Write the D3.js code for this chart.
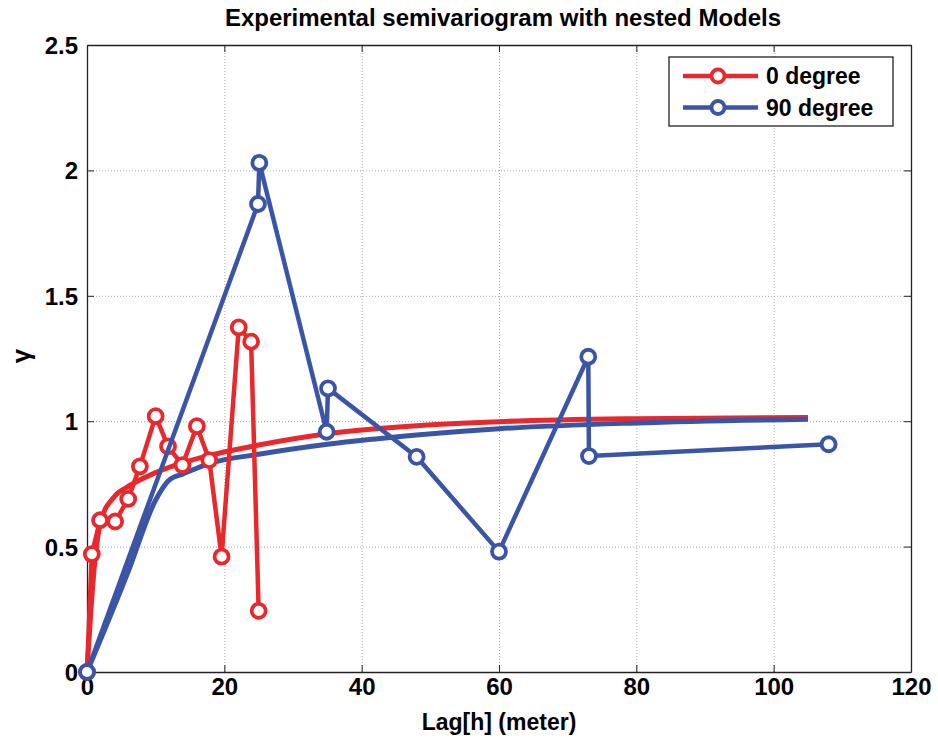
<!DOCTYPE html>
<html>
<head>
<meta charset="utf-8">
<script src="https://cdn.jsdelivr.net/npm/d3@7"></script>
<style>
  body { margin: 0; background: #fff; }
  svg { font-family: "Liberation Sans", Arial, sans-serif; font-weight: bold; }
</style>
</head>
<body>
<svg id="canvas"></svg>
<script>
// experimental semivariogram, 0 degree direction
const lag0 = [0, 0.7, 1.9, 4.1, 6.0, 7.7, 10.0, 11.8, 13.9, 16.0, 17.8, 19.6, 22.1, 23.9, 25.0];
const gamma0 = [0, 0.47, 0.605, 0.60, 0.69, 0.82, 1.02, 0.90, 0.825, 0.98, 0.845, 0.46, 1.374, 1.317, 0.244];

// experimental semivariogram, 90 degree direction
const lag90 = [0, 24.9, 25.1, 34.9, 35.1, 48.0, 60.0, 73.0, 73.1, 108.0];
const gamma90 = [0, 1.866, 2.03, 0.958, 1.131, 0.858, 0.48, 1.257, 0.861, 0.908];

// nested model curves
const modelLag0 = [0, 1, 2, 4, 6, 10, 14, 18, 25, 35, 48, 60, 80, 105];
const modelGamma0 = [0, 0.4, 0.6, 0.70, 0.74, 0.795, 0.835, 0.865, 0.905, 0.95, 0.982, 0.998, 1.01, 1.015];
const modelLag90 = [0, 6, 10, 12, 14, 18, 25, 35, 48, 60, 80, 105];
const modelGamma90 = [0, 0.4, 0.686, 0.766, 0.79, 0.833, 0.868, 0.908, 0.945, 0.97, 0.993, 1.008];

const xTicks = [0, 20, 40, 60, 80, 100, 120];
const yTicks = [0, 0.5, 1, 1.5, 2, 2.5];
const legendLabels = ["0 degree", "90 degree"];

const width = 938;
const height = 742;
const margin = { left: 87, right: 27, top: 45, bottom: 70 };

const red = "#e9282d";
const blue = "#3a55a6";

const canvas = d3.select("#canvas").attr("width", width).attr("height", height);

const xScale = d3.scaleLinear().domain([0, 120]).range([margin.left, width - margin.right]);
const yScale = d3.scaleLinear().domain([0, 2.5]).range([height - margin.bottom, margin.top]);

const plotW = width - margin.left - margin.right;
const plotH = height - margin.top - margin.bottom;

// grid
canvas.append("g")
  .attr("transform", `translate(0, ${height - margin.bottom})`)
  .call(d3.axisBottom(xScale).tickValues(xTicks).tickSize(-plotH).tickFormat(""))
  .call((g) => g.select(".domain").remove())
  .selectAll("line").attr("stroke", "#aaa").attr("stroke-dasharray", "1,2");

canvas.append("g")
  .attr("transform", `translate(${margin.left}, 0)`)
  .call(d3.axisLeft(yScale).tickValues(yTicks).tickSize(-plotW).tickFormat(""))
  .call((g) => g.select(".domain").remove())
  .selectAll("line").attr("stroke", "#aaa").attr("stroke-dasharray", "1,2");

// axes
const xAxis = canvas.append("g")
  .attr("transform", `translate(0, ${height - margin.bottom})`)
  .call(d3.axisBottom(xScale).tickValues(xTicks).tickSizeInner(-7).tickSizeOuter(0).tickPadding(6).tickFormat(d3.format("d")));

const yAxis = canvas.append("g")
  .attr("transform", `translate(${margin.left}, 0)`)
  .call(d3.axisLeft(yScale).tickValues(yTicks).tickSizeInner(-7).tickSizeOuter(0).tickPadding(9).tickFormat(d3.format("~g")));

canvas.append("g")
  .attr("transform", `translate(0, ${margin.top})`)
  .call(d3.axisTop(xScale).tickValues(xTicks).tickSizeInner(-7).tickSizeOuter(0).tickFormat(""));

canvas.append("g")
  .attr("transform", `translate(${width - margin.right}, 0)`)
  .call(d3.axisRight(yScale).tickValues(yTicks).tickSizeInner(-7).tickSizeOuter(0).tickFormat(""));

canvas.selectAll(".domain").attr("stroke", "#222").attr("stroke-width", 1.3);
canvas.selectAll(".tick line").filter(function () { return !this.getAttribute("stroke-dasharray"); }).attr("stroke", "#222");

xAxis.selectAll("text").attr("font-size", 24).attr("fill", "#000").attr("font-family", "Liberation Sans").attr("font-weight", "bold");
yAxis.selectAll("text").attr("font-size", 24).attr("fill", "#000").attr("font-family", "Liberation Sans").attr("font-weight", "bold").attr("dy", "0.35em");

// model curves
const modelLine = d3.line().x((d) => xScale(d[0])).y((d) => yScale(d[1])).curve(d3.curveMonotoneX);

canvas.append("path")
  .datum(d3.zip(modelLag0, modelGamma0))
  .attr("d", modelLine)
  .attr("fill", "none").attr("stroke", red).attr("stroke-width", 5);

canvas.append("path")
  .datum(d3.zip(modelLag90, modelGamma90))
  .attr("d", modelLine)
  .attr("fill", "none").attr("stroke", blue).attr("stroke-width", 5);

// experimental lines with markers
const dataLine = d3.line().x((d) => xScale(d[0])).y((d) => yScale(d[1]));

const drawSeries = (lags, gammas, color) => {
  const pts = d3.zip(lags, gammas);
  canvas.append("path")
    .datum(pts)
    .attr("d", dataLine)
    .attr("fill", "none").attr("stroke", color).attr("stroke-width", 4.5).attr("stroke-linejoin", "round");
  canvas.append("g")
    .selectAll("circle")
    .data(pts)
    .enter()
    .append("circle")
    .attr("cx", (d) => xScale(d[0]))
    .attr("cy", (d) => yScale(d[1]))
    .attr("r", 7)
    .attr("fill", "#fff")
    .attr("stroke", color)
    .attr("stroke-width", 3.8);
};

drawSeries(lag0, gamma0, red);
drawSeries(lag90, gamma90, blue);

// legend
const legend = canvas.append("g").attr("transform", "translate(669, 57)");
legend.append("rect").attr("width", 224).attr("height", 69).attr("fill", "#fff").attr("stroke", "#222").attr("stroke-width", 1.3);
[red, blue].forEach((c, i) => {
  const y = 19 + i * 31.5;
  legend.append("line").attr("x1", 14).attr("x2", 89).attr("y1", y).attr("y2", y).attr("stroke", c).attr("stroke-width", 4.5);
  legend.append("circle").attr("cx", 49).attr("cy", y).attr("r", 6.5).attr("fill", "#fff").attr("stroke", c).attr("stroke-width", 3.8);
  legend.append("text").attr("x", 97).attr("y", y).attr("dy", "0.35em").attr("font-size", 23).text(legendLabels[i]);
});

// title and labels
canvas.append("text")
  .attr("x", 503).attr("y", 26)
  .attr("text-anchor", "middle").attr("font-size", 24)
  .text("Experimental semivariogram with nested Models");

canvas.append("text")
  .attr("x", (margin.left + width - margin.right) / 2).attr("y", 730)
  .attr("text-anchor", "middle").attr("font-size", 23)
  .text("Lag[h] (meter)");

canvas.append("text")
  .attr("transform", "translate(30, 356) rotate(-90)")
  .attr("text-anchor", "middle").attr("font-size", 26)
  .text("γ");
</script>
</body>
</html>
